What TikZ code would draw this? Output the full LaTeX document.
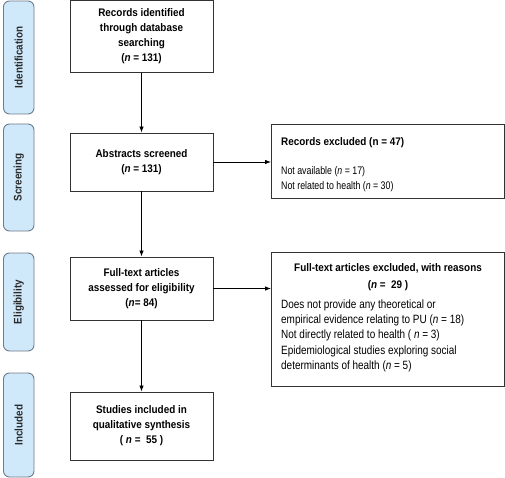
\documentclass[tikz,border=0pt]{standalone}
\usepackage{fontspec}
\setmainfont{Liberation Sans}[FakeStretch=0.8, BoldFeatures={FakeStretch=0.9}, BoldItalicFeatures={FakeStretch=0.9}]
\newfontfamily\widebody{Liberation Sans}[FakeStretch=0.83]
\usetikzlibrary{arrows.meta}
\definecolor{phasefill}{HTML}{CFE8FA}
\definecolor{phaseline}{HTML}{6E7C88}
\definecolor{boxline}{HTML}{333333}
\definecolor{phasetext}{HTML}{2A2A2A}
\tikzset{
  phase/.style={draw=phaseline, line width=0.9pt, fill=phasefill, rounded corners=6pt,
    minimum height=30.5pt, inner sep=0pt, text=phasetext, font=\fontsize{11}{13}\selectfont\bfseries},
  mainbox/.style={draw=boxline, line width=0.9pt, minimum width=143pt, inner sep=0pt, align=center,
    font=\fontsize{11}{15}\selectfont\bfseries},
  sidebox/.style={draw=boxline, line width=0.9pt, minimum width=233pt, inner sep=0pt},
  bodytext/.style={anchor=north west, inner sep=0pt, align=left, font=\fontsize{11}{14.5}\selectfont},
  arr/.style={draw=black, line width=0.8pt, -{Latex[length=6pt,width=4.5pt]}}
}
\begin{document}
\begin{tikzpicture}[x=1pt,y=-1pt]
\useasboundingbox (0,0) rectangle (505,478);
% phase labels
\node[phase, minimum width=113pt, rotate=90] (pid) at (18.75,57.5) {Identification};
\node[phase, minimum width=107pt, rotate=90] (psc) at (18.75,177.5) {Screening};
\node[phase, minimum width=98pt, rotate=90] (pel) at (18.75,302) {Eligibility};
\node[phase, minimum width=104pt, rotate=90] (pin) at (18.75,425) {Included};
% main boxes
\node[mainbox, minimum height=71.5pt] (rec) at (141.5,36.5) {Records identified\\through database\\searching\\(\textit{n} = 131)};
\node[mainbox, minimum height=58pt] (abs) at (141.5,162) {Abstracts screened\\(\textit{n} = 131)};
\node[mainbox, minimum height=63pt] (full) at (141.5,288.5) {Full-text articles\\assessed for eligibility\\(\textit{n}= 84)};
\node[mainbox, minimum height=68pt] (stud) at (141.5,426) {Studies included in\\qualitative synthesis\\( \textit{n} =\ \ 55 )};
% side boxes
\node[sidebox, minimum height=74pt] (ex1) at (388,161) {};
\node[sidebox, minimum height=134pt] (ex2) at (388,319) {};
\node[bodytext] (ex1t) at (281,137.5) {\textbf{Records excluded (n = 47)}\\[14.5pt]Not available (\textit{n} = 17)\\Not related to health (\textit{n} = 30)};
\node[inner sep=0pt, font=\fontsize{11}{17}\selectfont\bfseries, align=center, anchor=north] (ex2h) at (388,263) {Full-text articles excluded, with reasons\\(\textit{n} =\ \ 29 )};
\node[bodytext, font=\fontsize{12}{15.3}\selectfont\widebody] (ex2t) at (281,299.5) {Does not provide any theoretical or\\empirical evidence relating to PU (\textit{n} = 18)\\Not directly related to health ( \textit{n} = 3)\\Epidemiological studies exploring social\\determinants of health (\textit{n} = 5)};
% connectors
\draw[arr] (rec.south) -- (abs.north);
\draw[arr] (abs.south) -- (full.north);
\draw[arr] (full.south) -- (stud.north);
\draw[arr] (abs.east) -- (abs.east -| ex1.west);
\draw[arr] (full.east) -- (full.east -| ex2.west);
\end{tikzpicture}
\end{document}
